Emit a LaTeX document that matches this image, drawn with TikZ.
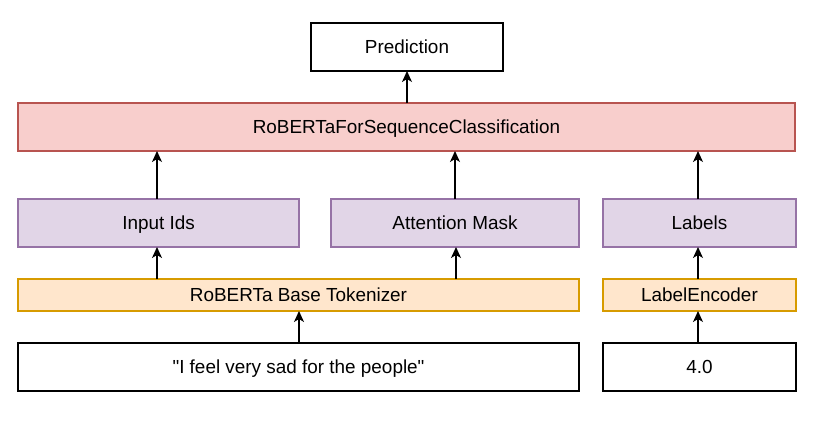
\documentclass[tikz,border=0pt]{standalone}
\usepackage{fontspec}
\newfontfamily\diafont{Liberation Sans}
\usetikzlibrary{arrows.meta}
\definecolor{redfill}{HTML}{F8CECC}
\definecolor{redline}{HTML}{B85450}
\definecolor{purfill}{HTML}{E1D5E7}
\definecolor{purline}{HTML}{9673A6}
\definecolor{orfill}{HTML}{FFE6CC}
\definecolor{orline}{HTML}{D79B00}
\begin{document}
\begin{tikzpicture}[x=1pt,y=-1pt,
  box/.style={draw=black,fill=white,line width=1.3pt,inner sep=0pt,outer sep=0pt,
    font=\diafont\fontsize{18.9}{22}\selectfont,text=black,text height=15pt,text depth=1.4pt},
  redbox/.style={box,draw=redline,fill=redfill},
  purbox/.style={box,draw=purline,fill=purfill},
  orbox/.style={box,draw=orline,fill=orfill},
  arr/.style={-{Stealth[length=11pt,width=10pt,inset=3pt]},line width=1.3pt,black}]
\useasboundingbox (0,0) rectangle (820,429);
\node[box,minimum width=192pt,minimum height=48pt] (pred) at (407,47) {Prediction};
\node[redbox,minimum width=777pt,minimum height=48pt] (rob) at (406.5,127) {RoBERTaForSequenceClassification};
\node[purbox,minimum width=281pt,minimum height=48pt] (ids) at (158.5,223) {Input Ids};
\node[purbox,minimum width=248pt,minimum height=48pt] (mask) at (455,223) {Attention Mask};
\node[purbox,minimum width=193pt,minimum height=48pt] (labels) at (699.5,223) {Labels};
\node[orbox,minimum width=561pt,minimum height=32pt] (tok) at (298.5,295) {RoBERTa Base Tokenizer};
\node[orbox,minimum width=193pt,minimum height=32pt] (enc) at (699.5,295) {LabelEncoder};
\node[box,minimum width=561pt,minimum height=48pt] (txt) at (298.5,367) {"I feel very sad for the people"};
\node[box,minimum width=193pt,minimum height=48pt] (val) at (699.5,367) {4.0};
\draw[arr] (rob.north -| pred.south) -- (pred.south);
\draw[arr] ([xshift=-1.5pt]ids.north) -- ([xshift=-1.5pt]ids.north |- rob.south);
\draw[arr] (mask.north) -- (mask.north |- rob.south);
\draw[arr] ([xshift=-1.5pt]labels.north) -- ([xshift=-1.5pt]labels.north |- rob.south);
\draw[arr] ([xshift=-1.5pt]tok.north -| ids.south) -- ([xshift=-1.5pt]ids.south);
\draw[arr] ([xshift=1pt]tok.north -| mask.south) -- ([xshift=1pt]mask.south);
\draw[arr] ([xshift=0.5pt]txt.north) -- ([xshift=0.5pt]txt.north |- tok.south);
\draw[arr] ([xshift=-1.5pt]val.north) -- ([xshift=-1.5pt]val.north |- enc.south);
\draw[arr] ([xshift=-1.5pt]enc.north) -- ([xshift=-1.5pt]enc.north |- labels.south);
\end{tikzpicture}
\end{document}
